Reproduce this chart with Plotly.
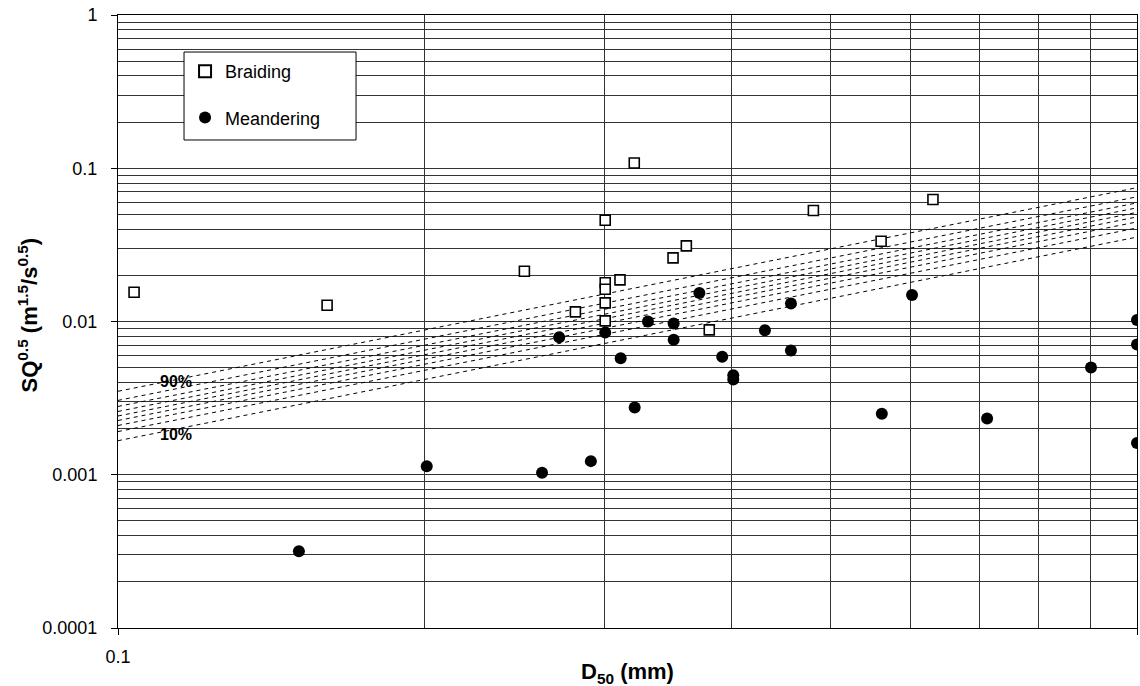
import numpy as np
import plotly.graph_objects as go

# ---------------- data ----------------
braid_d50 = [0.1037, 0.1604, 0.3211, 0.3007, 0.4813, 0.6306, 0.5609, 0.3612, 0.3505,
             0.2505, 0.3109, 0.3007, 0.3007, 0.3007, 0.2811, 0.3007, 0.3804]
braid_sq = [0.01553, 0.01277, 0.1083, 0.04579, 0.05297, 0.06248, 0.03341, 0.03113, 0.02600,
            0.02128, 0.01868, 0.01791, 0.01624, 0.01322, 0.01155, 0.01009, 0.00882]

mean_d50 = [0.3720, 0.4575, 0.3312, 0.3510, 0.2710, 0.3007, 0.4314, 0.3510, 0.4575,
            0.3114, 0.3917, 0.4016, 0.4016, 0.3214, 0.2911, 0.2607, 0.2009, 0.1505,
            0.6015, 1.0, 1.0, 0.9013, 0.5618, 0.7127, 1.0]
mean_sq = [0.01536, 0.01310, 0.01000, 0.00970, 0.00790, 0.00848, 0.00877, 0.00759, 0.00647,
           0.00576, 0.00588, 0.00446, 0.00418, 0.00275, 0.001227, 0.001029, 0.001138, 0.000317,
           0.01491, 0.01024, 0.00708, 0.00501, 0.00250, 0.00233, 0.001614]

# probability lines (10% .. 90%): value at D50 = 0.1 mm and at D50 = 1 mm
prob_levels = ["10%", "20%", "30%", "40%", "50%", "60%", "70%", "80%", "90%"]
prob_x_ends = [0.1, 1.0]
prob_y_at_01 = [0.001668, 0.001913, 0.002096, 0.002259, 0.002418, 0.002589, 0.002791, 0.003056, 0.003505]
prob_y_at_1 = [0.03554, 0.04077, 0.04465, 0.04813, 0.05152, 0.05517, 0.05944, 0.06512, 0.07470]

y_tickvals = [0.0001, 0.001, 0.01, 0.1, 1]
y_ticktext = ["0.0001", "0.001", "0.01", "0.1", "1"]
x_tickvals = [0.1, 1]
x_ticktext = ["0.1", "1"]

FONT = "Liberation Sans, Arial, sans-serif"

fig = go.Figure()

for lvl, y0, y1 in zip(prob_levels, prob_y_at_01, prob_y_at_1):
    fig.add_trace(go.Scatter(
        x=prob_x_ends, y=[y0, y1], mode="lines",
        line=dict(color="black", width=1, dash="4px,4px"),
        showlegend=False, hoverinfo="skip", name=lvl))

fig.add_trace(go.Scatter(
    x=braid_d50, y=braid_sq, mode="markers", name="Braiding",
    legendgroup="b",
    marker=dict(symbol="square", size=10, color="white",
                line=dict(color="black", width=1.6))))
fig.add_trace(go.Scatter(
    x=mean_d50, y=mean_sq, mode="markers", name="Meandering",
    legendgroup="m",
    marker=dict(symbol="circle", size=12, color="black",
                line=dict(color="black", width=0))))

grid_col = "#333333"
common = dict(
    ticks="outside", ticklen=6, tickcolor="black",
    showgrid=True, gridcolor=grid_col, gridwidth=1,
    minor=dict(dtick="D1", showgrid=True, gridcolor=grid_col, gridwidth=1, ticks=""),
    showline=True, linecolor="black", linewidth=1, mirror=True,
    zeroline=False,
    tickfont=dict(family=FONT, size=18, color="black"),
)
fig.update_xaxes(type="log", range=[-1, 0], tickvals=x_tickvals, ticktext=x_ticktext,
                 ticklabelstandoff=6, **common)
fig.update_yaxes(type="log", range=[-4, 0], tickvals=y_tickvals, ticktext=y_ticktext,
                 ticklabelstandoff=10, **common)

fig.add_annotation(
    text="<b>D<sub>50</sub> (mm)</b>", xref="paper", yref="paper",
    x=0.5, y=0, yanchor="middle", yshift=-45, showarrow=False,
    font=dict(family=FONT, size=22, color="black"))
fig.add_annotation(
    text="<b>SQ<sup>0.5</sup> (m<sup>1.5</sup>/s<sup>0.5</sup>)</b>", xref="paper", yref="paper",
    x=0, y=0.5, xanchor="center", yanchor="middle", xshift=-91, yshift=6, textangle=-90,
    showarrow=False, font=dict(family=FONT, size=22, color="black"))

# 90% / 10% labels
fig.add_annotation(text="<b>90%</b>", x=np.log10(0.114), y=np.log10(0.00408),
                   showarrow=False, font=dict(family=FONT, size=16, color="black"))
fig.add_annotation(text="<b>10%</b>", x=np.log10(0.114), y=np.log10(0.00184),
                   showarrow=False, font=dict(family=FONT, size=16, color="black"))

# legend frame (wider than plotly's auto-sized legend box)
fig.add_shape(type="rect", xref="paper", yref="paper",
              x0=0.0648, x1=0.2336, y0=0.7961, y1=0.9396,
              line=dict(color="black", width=1), fillcolor="white", layer="above")

fig.update_layout(
    width=1140, height=686,
    margin=dict(l=118, r=3, t=15, b=58),
    paper_bgcolor="white", plot_bgcolor="white",
    font=dict(family=FONT, size=18, color="black"),
    showlegend=True,
    legend=dict(
        x=0.0658, y=0.9380, xanchor="left", yanchor="top",
        bgcolor="rgba(255,255,255,0)", borderwidth=0,
        font=dict(family=FONT, size=18, color="black"),
        tracegroupgap=20, itemsizing="constant",
    ),
)

fig.write_html("out.html")
